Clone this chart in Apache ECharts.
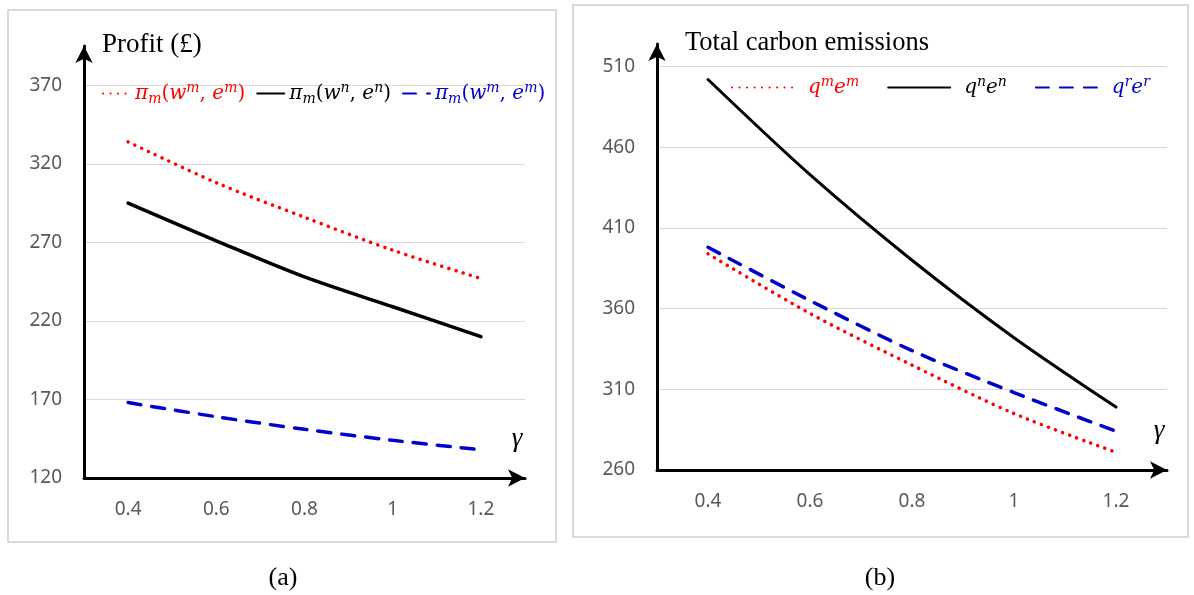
<!DOCTYPE html>
<html>
<head>
<meta charset="utf-8">
<script src="https://cdn.jsdelivr.net/npm/echarts@6/dist/echarts.min.js"></script>
<style>
  html, body { margin: 0; padding: 0; background: #fff; }
  #chart { width: 1194px; height: 595px; }
</style>
</head>
<body>
<div id="chart"></div>
<script>
// gamma values on both x axes
const gammaLabels = ['0.4', '0.6', '0.8', '1', '1.2']

// (a) profit
const profitDotted = [334, 308, 286, 265, 247]
const profitSolid = [295, 271, 248, 229, 210]
const profitDashed = [168, 159, 151, 144, 138]
const profitTicks = [120, 170, 220, 270, 320, 370]

// (b) total carbon emissions
const emisDotted = [394, 357, 325, 295, 271]
const emisSolid = [502, 443, 390, 342, 299]
const emisDashed = [398, 365, 334, 308, 284]
const emisTicks = [260, 310, 360, 410, 460, 510]

const RED = '#ff0000'
const BLACK = '#000000'
const BLUE = '#0000cc'
const tickFont = {color: '#595959', fontFamily: 'Noto Sans', fontSize: 19}
const serif = 'Liberation Serif'
const mathFont = 'DejaVu Serif'

// math-ish legend labels (rich text)
const mathRich = {
  it: {fontFamily: mathFont, fontStyle: 'italic', fontSize: 20, lineHeight: 25},
  lead: {fontFamily: mathFont, fontStyle: 'italic', fontSize: 20, lineHeight: 25, padding: [0, 0, 0, 9]},
  up: {fontFamily: mathFont, fontSize: 20, lineHeight: 25},
  sup: {fontFamily: mathFont, fontStyle: 'italic', fontSize: 14, lineHeight: 14, verticalAlign: 'top'},
  sub: {fontFamily: mathFont, fontStyle: 'italic', fontSize: 14, lineHeight: 14, verticalAlign: 'bottom'}
}
const legendText = {
  aRed: '{it|π}{sub|m}{up|(}{it|w}{sup|m}{up|, }{it|e}{sup|m}{up|)}',
  aBlack: '{it|π}{sub|m}{up|(}{it|w}{sup|n}{up|, }{it|e}{sup|n}{up|)}',
  aBlue: '{it|π}{sub|m}{up|(}{it|w}{sup|m}{up|, }{it|e}{sup|m}{up|)}',
  bRed: '{lead|q}{sup|m}{it|e}{sup|m}',
  bBlack: '{lead|q}{sup|n}{it|e}{sup|n}',
  bBlue: '{lead|q}{sup|r}{it|e}{sup|r}'
}

function lineSeries(name, data, idx, color, type, width) {
  return {
    name: name,
    type: 'line',
    xAxisIndex: idx,
    yAxisIndex: idx,
    data: data,
    smooth: 0.3,
    symbol: 'none',
    color: color,
    lineStyle: {color: color, type: type, width: width, cap: 'round'}
  }
}

function xAxisCfg(idx) {
  return {
    type: 'category',
    gridIndex: idx,
    data: gammaLabels,
    boundaryGap: true,
    name: 'γ',
    nameLocation: 'end',
    nameGap: -8,
    nameTextStyle: {fontFamily: serif, fontStyle: 'italic', fontSize: 27, color: '#000',
      align: 'center', verticalAlign: 'bottom', padding: [0, 0, 26, 0]},
    axisLine: {show: true, symbol: ['none', 'arrow'], symbolSize: [13, 17],
      lineStyle: {color: '#000', width: 3}},
    axisTick: {show: false},
    axisLabel: Object.assign({margin: 22}, tickFont),
    splitLine: {show: false}
  }
}

function yAxisCfg(idx, min, max, ticks, name, nameSize, namePad) {
  return {
    type: 'value',
    gridIndex: idx,
    min: min,
    max: max,
    name: name,
    nameLocation: 'end',
    nameGap: 1,
    nameTextStyle: {fontFamily: serif, fontSize: nameSize, color: '#000',
      align: 'left', verticalAlign: 'middle', padding: [0, 0, 0, namePad]},
    axisLine: {show: true, symbol: ['none', 'arrow'], symbolSize: [13, 17],
      lineStyle: {color: '#000', width: 3}},
    axisTick: {show: false, customValues: ticks},
    axisLabel: Object.assign({margin: 22, customValues: ticks}, tickFont),
    splitLine: {show: true, lineStyle: {color: '#d9d9d9', width: 1}}
  }
}

function legendCfg(left, top, itemWidth, itemGap, names, colors) {
  return {
    left: left,
    top: top,
    itemWidth: itemWidth,
    itemHeight: 12,
    itemGap: itemGap,
    itemStyle: {opacity: 0},
    data: names.map((n, i) => ({name: n, textStyle: {color: colors[i]}})),
    formatter: name => legendText[name],
    textStyle: {fontSize: 20, rich: mathRich}
  }
}

const chart = echarts.init(document.getElementById('chart'))

const option = {
  backgroundColor: '#fff',
  animation: false,
  graphic: [
    {type: 'rect', z: -1, shape: {x: 8, y: 10, width: 548, height: 532},
      style: {fill: 'none', stroke: '#d9d9d9', lineWidth: 2}},
    {type: 'rect', z: -1, shape: {x: 573, y: 5, width: 615, height: 532},
      style: {fill: 'none', stroke: '#d9d9d9', lineWidth: 2}},
    {type: 'text', x: 283, y: 578,
      style: {text: '(a)', font: '26px "Liberation Serif"', fill: '#000', align: 'center', verticalAlign: 'middle'}},
    {type: 'text', x: 880, y: 578,
      style: {text: '(b)', font: '26px "Liberation Serif"', fill: '#000', align: 'center', verticalAlign: 'middle'}}
  ],
  grid: [
    {left: 84, top: 46, width: 441, height: 432},
    {left: 657, top: 44, width: 510, height: 426}
  ],
  legend: [
    legendCfg(97, 76, 27, 11, ['aRed', 'aBlack', 'aBlue'], [RED, BLACK, BLUE]),
    legendCfg(726, 70, 62, 28, ['bRed', 'bBlack', 'bBlue'], [RED, BLACK, BLUE])
  ],
  xAxis: [xAxisCfg(0), xAxisCfg(1)],
  yAxis: [
    yAxisCfg(0, 120, 395, profitTicks, 'Profit (£)', 27, 18),
    yAxisCfg(1, 260, 524, emisTicks, 'Total carbon emissions', 26.5, 28)
  ],
  series: [
    lineSeries('aRed', profitDotted, 0, RED, [0.1, 7.4], 3.5),
    lineSeries('aBlack', profitSolid, 0, BLACK, 'solid', 3.5),
    lineSeries('aBlue', profitDashed, 0, BLUE, [13, 11], 3.5),
    lineSeries('bRed', emisDotted, 1, RED, [0.1, 7.4], 3.5),
    lineSeries('bBlack', emisSolid, 1, BLACK, 'solid', 3),
    lineSeries('bBlue', emisDashed, 1, BLUE, [13, 11], 3.5)
  ]
}

chart.setOption(option)
window.addEventListener('resize', () => chart.resize())
</script>
</body>
</html>
